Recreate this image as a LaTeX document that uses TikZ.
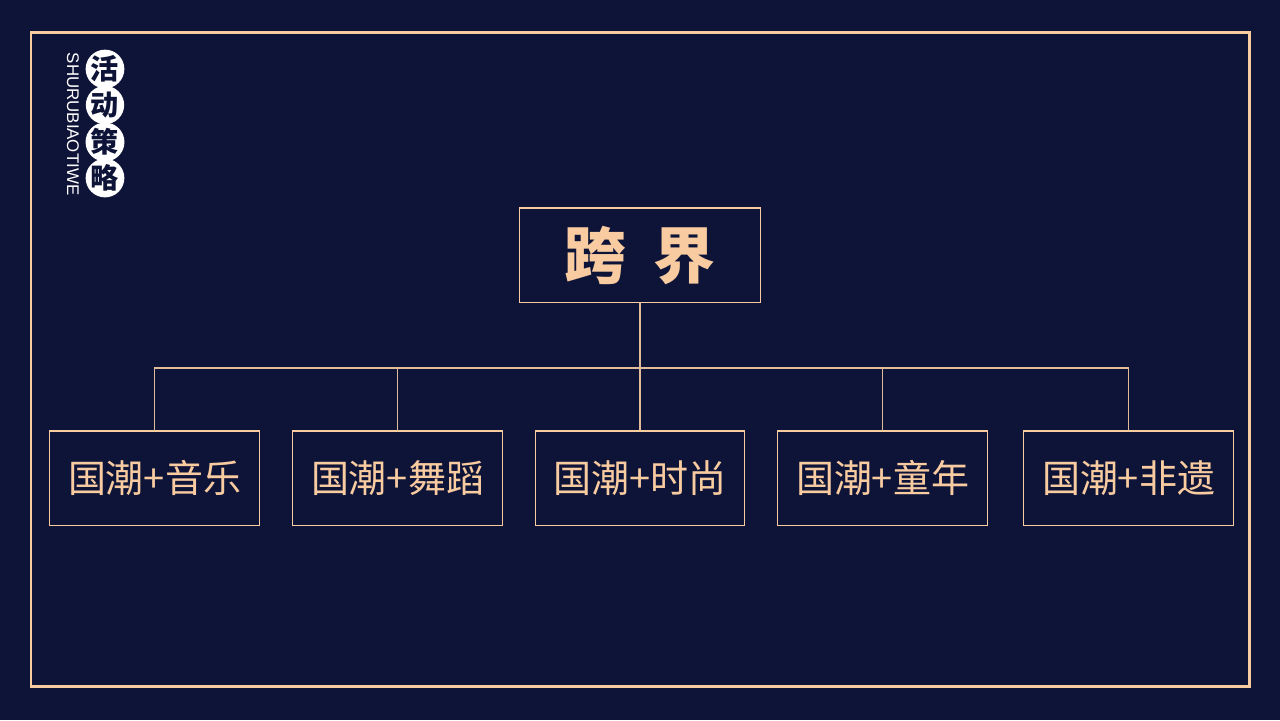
\documentclass[tikz,border=0pt]{standalone}
\usepackage{fontspec}
\newfontfamily\cjk{Noto Sans CJK SC}
\newfontfamily\latinsans{Liberation Sans}
\usetikzlibrary{positioning}
\definecolor{navy}{RGB}{14,20,56}
\definecolor{peach}{RGB}{248,203,160}
\begin{document}
\begin{tikzpicture}[x=0.01cm, y=-0.01cm,
    box/.style={draw=peach, line width=0.3pt, minimum width=2.09cm, minimum height=0.94cm, text=peach, font=\cjk\fontsize{10.8}{12}\selectfont, inner sep=0pt},
    topbox/.style={box, minimum width=2.41cm, font=\cjk\bfseries\fontsize{17.6}{20}\selectfont},
    badge/.style={circle, fill=white, minimum size=0.35cm, inner sep=0pt, text=navy, font=\cjk\bfseries\fontsize{8}{9}\selectfont},
    link/.style={draw=peach!80!gray, line width=0.3pt}]
		\fill[navy] (0,0) rectangle (1280,720);
		\useasboundingbox (0,0) rectangle (1280,720);
		\draw[peach, line width=0.85pt] (31,32) rectangle (1249,686);
		% logo
		\node[badge] (huo) at (105,69) {活};
		\node[badge] (dong) at (105,105) {动};
		\node[badge] (ce) at (105,142) {策};
		\node[badge] (lve) at (105,178) {略};
		\node[rotate=-90, text=white, inner sep=0pt, font=\latinsans\fontsize{4.8}{5}\selectfont] (sub) at (73,124) {SHURUBIAOTIWE};
		% tree
		\node[topbox] (kuajie) at (640,255) {跨\hspace{0.45em}界};
		\node[box] (yinyue) at (154.5,478) {国潮+音乐};
		\node[box] (wudao) at (397.5,478) {国潮+舞蹈};
		\node[box] (shishang) at (640,478) {国潮+时尚};
		\node[box] (tongnian) at (882.5,478) {国潮+童年};
		\node[box] (feiyi) at (1128.5,478) {国潮+非遗};
		\coordinate (bus) at (640,368);
		\draw[link] (kuajie.south) -- (bus);
		\draw[link] (yinyue.north) |- (bus) -| (feiyi.north);
		\foreach \n in {wudao, shishang, tongnian}
			\draw[link] (\n.north) -- (\n.north |- bus);
	\end{tikzpicture}
\end{document}
